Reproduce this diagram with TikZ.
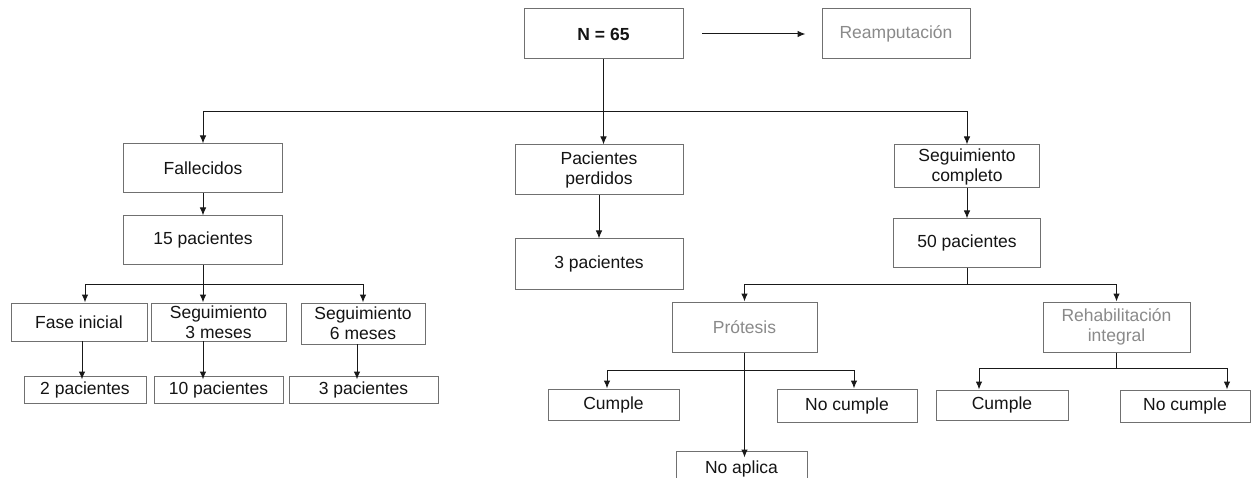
\documentclass[tikz,border=0pt]{standalone}
\usepackage{fontspec}
\setmainfont{Liberation Sans}
\usetikzlibrary{arrows.meta}
\definecolor{boxgray}{HTML}{707070}
\definecolor{txtgray}{HTML}{8A8A8A}
\definecolor{txtdark}{HTML}{141414}
\begin{document}
\begin{tikzpicture}[x=1pt,y=-1pt,
  box/.style={draw=boxgray, line width=1pt, inner sep=0pt, align=center,
    font=\fontsize{17.5}{20}\selectfont, text=txtdark},
  graytext/.style={text=txtgray},
  conn/.style={draw=black!90, line width=1pt},
  arr/.style={conn, -{Latex[length=8pt,width=6.5pt]}}]
\useasboundingbox (0,0) rectangle (1257,478);
\clip (0,0) rectangle (1257,478);
\fill[white] (0,0) rectangle (1257,478);

% top
\node[box, minimum width=159pt, minimum height=50pt, font=\fontsize{17.5}{20}\selectfont\bfseries] (N) at (603.5,34) {N = 65};
\node[box, graytext, minimum width=148pt, minimum height=50pt] (ream) at (896,34) {Reamputación};
\coordinate (ra) at (702,34);
\draw[arr] (ra) -- ([xshift=-16pt]ream.west);

% level 1
\node[box, minimum width=159pt, minimum height=49pt] (fal) at (203,168.5) {Fallecidos};
\node[box, minimum width=168pt, minimum height=50pt] (pp) at (599,170) {Pacientes\\perdidos};
\node[box, minimum width=145pt, minimum height=43pt] (sc) at (967,166.5) {Seguimiento\\completo};

\coordinate (j0) at (603.5,112);
\draw[conn] (N.south) -- (j0);
\draw[arr] (j0) -| (fal.north);
\draw[arr] (j0) -| (sc.north);
\draw[arr] (j0) -- (pp.north -| j0);

% level 2
\node[box, minimum width=159pt, minimum height=48pt] (p15) at (203,240) {15 pacientes};
\node[box, minimum width=168pt, minimum height=50pt] (p3b) at (599,264) {3 pacientes};
\node[box, minimum width=147pt, minimum height=48pt] (p50) at (967,243) {50 pacientes};
\draw[arr] (fal.south) -- (p15.north);
\draw[arr] (pp.south) -- (p3b.north);
\draw[arr] (sc.south) -- (p50.north);

% left subtree
\node[box, minimum width=136pt, minimum height=38pt] (fase) at (79,322) {Fase inicial};
\node[box, minimum width=135pt, minimum height=38pt] (s3) at (218.5,322) {Seguimiento\\3 meses};
\node[box, minimum width=124pt, minimum height=41pt] (s6) at (363,323.5) {Seguimiento\\6 meses};
\coordinate (j15) at (203,284);
\coordinate (j15a) at (85,284);
\coordinate (j15c) at (363,284);
\draw[conn] (p15.south) -- (j15);
\draw[conn] (j15a) -- (j15c);
\draw[arr] (j15a) -- (fase.north -| j15a);
\draw[arr] (j15) -- (s3.north -| j15);
\draw[arr] (j15c) -- (s6.north -| j15c);

\node[box, minimum width=122pt, minimum height=27pt] (p2) at (85,389.5) {2 pacientes};
\node[box, minimum width=129pt, minimum height=27pt] (p10) at (218.5,389.5) {10 pacientes};
\node[box, minimum width=149pt, minimum height=27pt] (p3) at (363.5,389.5) {3 pacientes};
\coordinate (a1) at (82,341);
\coordinate (a2) at (203,341);
\coordinate (a3) at (357,344);
\draw[arr] (a1) -- ([yshift=-4pt]p2.north -| a1);
\draw[arr] (a2) -- ([yshift=-4pt]p10.north -| a2);
\draw[arr] (a3) -- ([yshift=-4pt]p3.north -| a3);

% right subtree
\node[box, graytext, minimum width=145pt, minimum height=50pt] (pro) at (744.5,327) {Prótesis};
\node[box, graytext, minimum width=147pt, minimum height=50pt] (reh) at (1116.5,327) {Rehabilitación\\integral};
\coordinate (j50) at (967,284);
\draw[conn] (p50.south) -- (j50);
\draw[arr] (j50) -| (pro.north);
\draw[arr] (j50) -| (reh.north);

\node[box, minimum width=131pt, minimum height=31pt] (cu1) at (613.5,404.5) {Cumple};
\node[box, minimum width=140pt, minimum height=33pt] (nc1) at (847,405.5) {No cumple};
\node[box, minimum width=131pt, minimum height=48pt] (na) at (741.5,475) {\raisebox{0pt}[0pt][0pt]{}\\[-26pt]No aplica};
\coordinate (jp) at (744.5,370);
\coordinate (jpa) at (607,370);
\coordinate (jpb) at (854,370);
\draw[conn] (pro.south) -- (jp);
\draw[conn] (jpa) -- (jpb);
\draw[arr] (jpa) -- (cu1.north -| jpa);
\draw[arr] (jpb) -- (nc1.north -| jpb);
\draw[arr] (jp) -- ([yshift=-7pt]na.north -| jp);

\node[box, minimum width=132pt, minimum height=30pt] (cu2) at (1002,405) {Cumple};
\node[box, minimum width=130pt, minimum height=32pt] (nc2) at (1185,406) {No cumple};
\coordinate (jr) at (1116.5,368);
\coordinate (jra) at (979,368);
\coordinate (jrb) at (1227,368);
\draw[conn] (reh.south) -- (jr);
\draw[conn] (jra) -- (jrb);
\draw[arr] (jra) -- (cu2.north -| jra);
\draw[arr] (jrb) -- (nc2.north -| jrb);
\end{tikzpicture}
\end{document}
